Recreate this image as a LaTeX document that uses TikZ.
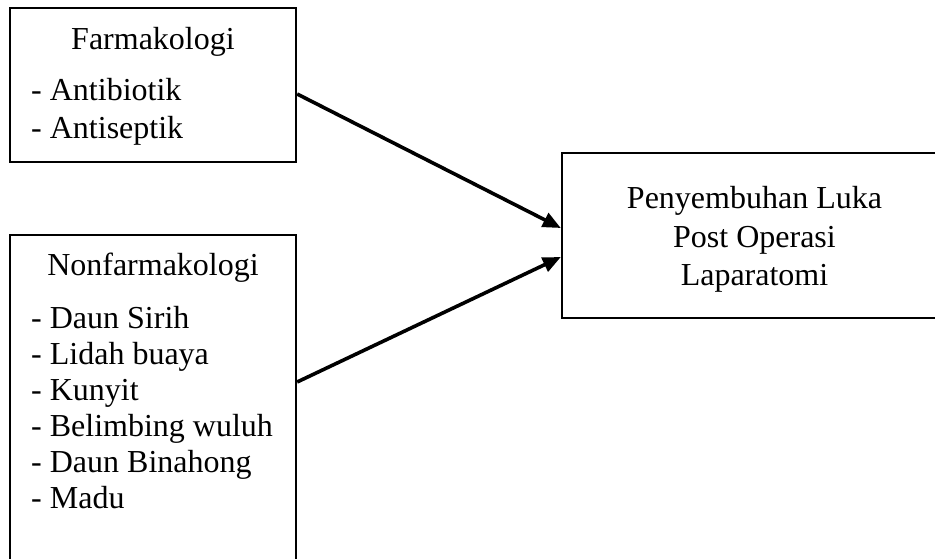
\documentclass[tikz,border=0pt]{standalone}
\usepackage{fontspec}
\setmainfont{Liberation Serif}
\usetikzlibrary{arrows.meta}
\begin{document}
\begin{tikzpicture}[x=1pt,y=-1pt,
  box/.style={draw=black,line width=2.3pt,rectangle,inner sep=0pt},
  txt/.style={inner sep=0pt,anchor=base,font=\fontsize{32}{38}\selectfont},
  itm/.style={inner sep=0pt,anchor=base west,font=\fontsize{32}{38}\selectfont},
  conn/.style={line width=3.6pt,-{Triangle[length=18pt,width=15pt]}}]
\useasboundingbox (0,0) rectangle (935,558);
\fill[white] (0,0) rectangle (935,558);
\node[box,minimum width=286pt,minimum height=154pt] (b1) at (153,85) {};
\node[box,minimum width=286pt,minimum height=335pt] (b2) at (153,402.5) {};
\node[box,minimum width=384pt,minimum height=165pt] (b3) at (754,235.5) {};
\node[txt] (t1) at (153,49) {Farmakologi};
\node[itm] (a1) at (31,100) {- Antibiotik};
\node[itm] (a2) at (31,138) {- Antiseptik};
\node[txt] (t2) at (153,275) {Nonfarmakologi};
\node[itm] (n1) at (31,328) {- Daun Sirih};
\node[itm] (n2) at (31,364) {- Lidah buaya};
\node[itm] (n3) at (31,400) {- Kunyit};
\node[itm] (n4) at (31,436) {- Belimbing wuluh};
\node[itm] (n5) at (31,472) {- Daun Binahong};
\node[itm] (n6) at (31,508) {- Madu};
\node[txt] (t3a) at (754.5,208) {Penyembuhan Luka};
\node[txt] (t3b) at (754.5,247) {Post Operasi};
\node[txt] (t3c) at (754.5,285) {Laparatomi};
\draw[conn] ([yshift=-9pt]b1.east) -- ([yshift=7.5pt]b3.west);
\draw[conn] ([yshift=20.5pt]b2.east) -- ([yshift=-21.5pt]b3.west);
\end{tikzpicture}
\end{document}
